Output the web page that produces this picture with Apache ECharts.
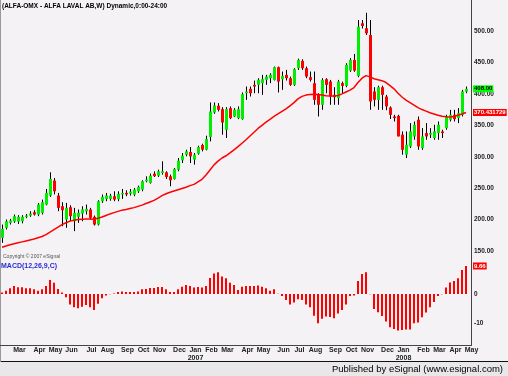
<!DOCTYPE html>
<html>
<head>
<meta charset="utf-8">
<script src="https://cdn.jsdelivr.net/npm/echarts@6/dist/echarts.min.js"></script>
<style>
    html, body { margin: 0; padding: 0; background: #f4f2f4; }
    #main { width: 508px; height: 376px; }
</style>
</head>
<body>
<div id="main"></div>
<script>
// weekly bars, first week starts Mon 30 Jan 2006
var opens = [171.0,186.9,194.8,196.9,196.9,197.4,204.3,206.4,211.7,208.0, 210.7,223.9,238.2,262.0,238.2,221.2,200.1,219.7,197.4,204.3,
    209.6,213.3,216.0,204.3,192.1,229.2,232.9,232.9,237.1,232.5, 240.0,242.4,241.3,239.8,245.0,247.7,260.9,258.3,273.0,269.9,
    274.1,275.2,268.8,264.6,279.4,294.2,303.2,307.5,295.3,304.8, 318.6,311.2,331.3,370.4,381.0,375.7,342.9,377.3,364.0,361.4,
    359.8,401.0,408.0,414.3,414.3,417.0,422.3,424.9,422.3,442.4, 423.3,430.2,424.9,414.3,440.8,452.4,440.8,426.5,416.9,398.4,
    382.6,423.3,419.6,398.4,393.1,417.0,412.7,437.0,454.0,428.6, 512.2,504.3,493.7,403.7,390.5,410.6,395.7,378.3,364.0,365.0,
    335.0,303.2,316.4,332.3,358.8,313.8,337.6,335.0,329.7,337.6, 340.2,345.5,358.8,366.7,361.4,366.7,403.7];
var highs = [192.1,200.1,201.1,208.0,207.0,207.0,209.0,213.3,214.9,226.5, 231.8,248.7,275.2,266.0,242.4,227.6,226.5,222.8,218.6,216.0,
    221.2,223.9,218.6,206.4,230.8,239.8,242.4,241.0,245.0,245.0, 248.7,246.6,248.7,250.3,254.0,262.5,268.8,273.1,276.8,279.4,
    292.7,276.8,271.5,282.1,298.0,305.9,311.2,315.4,305.9,317.5, 320.7,333.4,386.3,386.3,385.2,378.9,378.9,380.0,377.3,380.0,
    402.2,411.7,411.7,421.2,424.9,430.2,430.2,432.8,443.4,443.4, 435.5,438.1,427.5,440.8,456.0,455.0,443.4,435.5,435.5,401.0,
    424.9,424.9,422.2,410.6,422.2,419.5,448.7,456.8,463.5,517.5, 517.5,529.0,517.5,410.6,413.0,413.0,398.4,380.0,366.7,366.7,
    340.2,340.2,353.5,356.0,364.0,345.5,353.5,345.5,350.8,356.0, 342.9,366.7,374.6,374.6,377.3,406.4,411.7];
var lows = [163.0,184.2,192.1,194.8,193.0,194.0,202.2,204.3,206.4,205.4, 208.0,222.8,236.1,240.0,213.3,189.5,186.9,197.4,181.6,194.8,
    197.4,208.0,200.1,190.6,190.6,226.5,229.2,230.0,229.2,229.2, 232.9,237.1,238.2,237.1,242.4,245.0,259.3,257.2,267.8,267.8,
    271.5,264.6,253.0,263.6,276.8,290.0,300.6,290.0,287.4,303.2, 308.5,310.1,324.4,368.3,372.0,335.0,329.7,359.8,363.0,359.8,
    358.8,390.5,395.8,401.0,401.0,398.4,414.3,417.0,421.2,402.2, 406.4,421.2,412.7,412.7,438.0,438.1,424.9,419.6,382.6,364.0,
    374.6,401.0,382.6,382.6,382.6,401.0,410.6,435.0,435.0,426.5, 504.0,493.7,374.6,380.0,374.6,374.6,374.0,360.0,356.0,332.3,
    303.2,297.9,313.8,327.0,311.0,311.0,327.0,329.7,327.0,327.0, 329.7,342.9,356.1,356.1,353.5,364.0,401.0];
var closes = [185.3,197.4,198.5,205.4,204.3,204.3,206.4,209.6,208.0,223.9, 227.6,242.4,264.6,245.0,218.6,214.9,218.6,205.4,210.7,210.7,
    216.0,217.0,202.7,192.1,229.2,236.1,238.2,238.2,231.8,241.0, 242.4,240.0,244.5,247.7,251.9,260.9,263.6,269.9,269.0,276.8,
    276.8,267.8,262.5,280.5,293.7,301.6,308.5,300.6,303.2,315.4, 311.2,328.1,372.0,381.5,374.6,354.5,375.7,361.4,374.6,375.7,
    399.5,403.7,401.0,411.7,422.3,423.3,427.5,430.2,442.4,419.6, 428.6,424.9,414.3,439.2,454.0,440.8,427.5,422.2,390.5,382.6,
    422.2,414.3,395.8,394.7,419.6,412.7,446.0,454.0,437.0,506.8, 508.0,496.3,387.8,390.5,410.6,398.4,380.0,366.7,361.4,332.3,
    311.0,319.0,340.2,350.8,316.4,332.3,332.3,337.6,340.2,350.8, 337.6,364.0,366.7,359.8,369.3,403.7,408.0];
// moving average as drawn on the chart
var maValues = [156,158,160,161.5,163,164.5,166,167.5,169,171, 173,176,180,184,188,192,195,197.5,199,200,
    200.5,201,201,200.5,202,204,206.5,209,211,213, 215,216,217.5,219,221,223,225.5,228,230.5,234,
    238,241,243.5,245.5,247.5,249.5,251.5,254,256,260, 264,271,279,287,293,298,301.5,306,311,316,
    321.5,327,333,339,345,350,355,359.5,364,368, 372,376,381,386,392,396,398,399,399.5,399,
    398,397,396.5,396.5,397.5,400,403,406,410,418, 425,429,427,424,422.5,421,418,413,408,401,
    395,390,386,382,378,375,372.5,370,368,366, 364.5,363.5,363,364,366,368,370.431729];
// MACD(12,26,9) histogram
var macdHist = [0.5,1.1,2.0,2.8,2.3,2.3,2.0,2.0,1.6,1.1, 1.6,2.8,4.8,3.9,1.7,0.5,-1.1,-3.6,-4.6,-4.9,
    -4.4,-3.8,-4.6,-5.5,-3.4,-1.5,-0.5,-0.1,0.2,0.7, 0.9,0.7,0.7,0.7,0.9,1.6,1.7,2.1,2.1,2.4,
    2.4,1.6,0.7,0.7,1.6,2.5,3.1,2.8,2.2,2.4, 2.2,2.8,5.5,7.1,7.5,6.0,5.4,3.9,3.1,1.4,
    2.5,2.8,2.8,2.8,2.9,2.5,2.0,1.1,1.6,0.1, -0.7,-2.1,-3.6,-2.9,-1.8,-2.1,-3.6,-4.6,-7.5,-10.1,
    -8.5,-7.8,-7.9,-8.4,-6.7,-5.5,-3.6,-0.7,-0.5,4.5, 6.9,7.5,-0.1,-5.2,-6.3,-7.6,-9.5,-11.5,-12.1,-12.6,
    -12.4,-12.2,-12.2,-10.1,-9.8,-8.0,-6.4,-4.6,-2.8,-0.7, -0.1,2.2,4.0,4.5,5.4,8.3,9.66];
var monthNames = ['Jan','Feb','Mar','Apr','May','Jun','Jul','Aug','Sep','Oct','Nov','Dec'];
var priceTicks = [150, 500, 50];
var macdTicks = [-10, 10, 10];

var upColor = '#00ee00';
var downColor = '#ff0000';

// week categories (one empty week after the last bar)
var weeks = [];
var monthStart = {};
for (var i = 0; i <= closes.length; i++) {
    var d = new Date(2006, 0, 30 + 7 * i);
    weeks.push(d.getFullYear() + '-' + (d.getMonth() + 1) + '-' + d.getDate());
    var thu = new Date(2006, 0, 33 + 7 * i);
    var prevThu = new Date(2006, 0, 26 + 7 * i);
    if (i > 0 && thu.getMonth() != prevThu.getMonth()) {
        monthStart[i] = monthNames[thu.getMonth()] + (thu.getMonth() == 0 ? '\n' + thu.getFullYear() : '');
    }
}

var candleData = [];
for (var i = 0; i < closes.length; i++) {
    candleData.push([i, opens[i], closes[i], lows[i], highs[i]]);
}
var last = closes.length - 1;

function renderCandle(params, api) {
    var idx = api.value(0);
    var o = api.value(1), c = api.value(2);
    var top = api.coord([idx, Math.max(o, c)]);
    var bot = api.coord([idx, Math.min(o, c)]);
    var hi = api.coord([idx, api.value(4)]);
    var lo = api.coord([idx, api.value(3)]);
    var x = Math.round(hi[0]);
    return {
        type: 'group',
        children: [{
            type: 'line',
            shape: { x1: x + 0.5, y1: hi[1], x2: x + 0.5, y2: lo[1] },
            style: { stroke: '#000', lineWidth: 1 }
        }, {
            type: 'rect',
            shape: { x: x - 1, y: top[1], width: 3, height: Math.max(1, bot[1] - top[1]) },
            style: { fill: c >= o ? upColor : downColor }
        }]
    };
}

// value tag on the right axis
function endLabel(value, text, bg, fg) {
    return {
        silent: true,
        symbol: ['none', 'none'],
        lineStyle: { color: 'rgba(0,0,0,0)', width: 1, type: 'solid' },
        label: {
            show: true, position: 'end', distance: 1, formatter: text,
            backgroundColor: bg, color: fg, padding: [1, 1, 0, 1],
            fontSize: 6, fontWeight: 'bold', fontFamily: 'Liberation Sans'
        },
        emphasis: { disabled: true },
        data: [{ yAxis: value }]
    };
}

var chart = echarts.init(document.getElementById('main'));
var option = {
    backgroundColor: '#f4f2f4',
    animation: false,
    grid: [
        { left: 0, top: 31, width: 472, height: 220 },
        { left: 0, top: 265, width: 472, height: 58 }
    ],
    xAxis: [{
        type: 'category', gridIndex: 0, data: weeks, show: false
    }, {
        type: 'category', gridIndex: 1, data: weeks, offset: 22,
        axisLine: { show: false },
        axisTick: { show: false },
        axisLabel: {
            interval: function (index) { return monthStart[index] !== undefined; },
            formatter: function (v, index) { return monthStart[index] || ''; },
            showMaxLabel: true, hideOverlap: false,
            margin: 1, fontSize: 7, fontWeight: 'bold', lineHeight: 8, padding: [0, 0, 0, 3],
            color: '#222', fontFamily: 'Liberation Sans'
        }
    }],
    yAxis: [{
        type: 'value', gridIndex: 0, position: 'right',
        min: priceTicks[0], max: priceTicks[1], interval: priceTicks[2],
        splitLine: { show: false }, axisLine: { show: false }, axisTick: { show: false },
        axisLabel: {
            margin: 2, fontSize: 6.5, fontWeight: 'bold', color: '#222', fontFamily: 'Liberation Sans',
            formatter: function (v) { return v.toFixed(2); }
        }
    }, {
        type: 'value', gridIndex: 1, position: 'right',
        min: macdTicks[0], max: macdTicks[1], interval: macdTicks[2],
        splitLine: { show: false }, axisLine: { show: false }, axisTick: { show: false },
        axisLabel: {
            margin: 2, fontSize: 6.5, fontWeight: 'bold', color: '#222', fontFamily: 'Liberation Sans',
            formatter: function (v) { return v > 0 ? '' : String(v); }
        }
    }],
    series: [{
        name: 'ALFA', type: 'custom', xAxisIndex: 0, yAxisIndex: 0,
        renderItem: renderCandle, data: candleData, clip: false, z: 2,
        encode: { x: 0, y: [1, 2, 3, 4] },
        markLine: endLabel(closes[last], closes[last].toFixed(2), '#00ff00', '#000')
    }, {
        name: 'MA', type: 'line', xAxisIndex: 0, yAxisIndex: 0,
        data: maValues, showSymbol: false, z: 3,
        lineStyle: { color: '#ff0000', width: 1.5 },
        markLine: endLabel(maValues[last], String(maValues[last]), '#ff0000', '#fff')
    }, {
        name: 'MACD', type: 'bar', xAxisIndex: 1, yAxisIndex: 1,
        data: macdHist, barWidth: 2, clip: false,
        itemStyle: { color: '#ff0000' },
        markLine: endLabel(macdHist[last], String(macdHist[last]), '#ff0000', '#fff')
    }],
    graphic: [
        { type: 'rect', silent: true, z: 0, shape: { x: 0, y: 362, width: 508, height: 14 }, style: { fill: '#e8e7e9' } },
        { type: 'line', silent: true, shape: { x1: 0, y1: 361.5, x2: 508, y2: 361.5 }, style: { stroke: '#111', lineWidth: 1 } },
        { type: 'line', silent: true, shape: { x1: 0.5, y1: 0, x2: 0.5, y2: 362 }, style: { stroke: '#999', lineWidth: 1 } },
        { type: 'line', silent: true, shape: { x1: 471.5, y1: 0, x2: 471.5, y2: 345.5 }, style: { stroke: '#444', lineWidth: 1 } },
        { type: 'line', silent: true, shape: { x1: 0, y1: 345.5, x2: 472, y2: 345.5 }, style: { stroke: '#444', lineWidth: 1 } },
        { type: 'text', silent: true, x: 2, y: 6, style: {
            text: '(ALFA-OMX - ALFA LAVAL AB,W) Dynamic,0:00-24:00', fill: '#000',
            font: 'bold 6.5px "Liberation Sans"', textVerticalAlign: 'middle' } },
        { type: 'text', silent: true, x: 3, y: 257, style: {
            text: 'Copyright \u00a9 2007 eSignal', fill: '#555',
            font: '5px "Liberation Sans"', textVerticalAlign: 'middle' } },
        { type: 'text', silent: true, x: 1, y: 266, style: {
            text: 'MACD(12,26,9,C)', fill: '#2a2ad8',
            font: 'bold 7px "Liberation Sans"', textVerticalAlign: 'middle' } },
        { type: 'text', silent: true, x: 503, y: 369, style: {
            text: 'Published by eSignal (www.esignal.com)', fill: '#000',
            font: '9.5px "Liberation Sans"', textAlign: 'right', textVerticalAlign: 'middle' } }
    ]
};
chart.setOption(option);
</script>
</body>
</html>
